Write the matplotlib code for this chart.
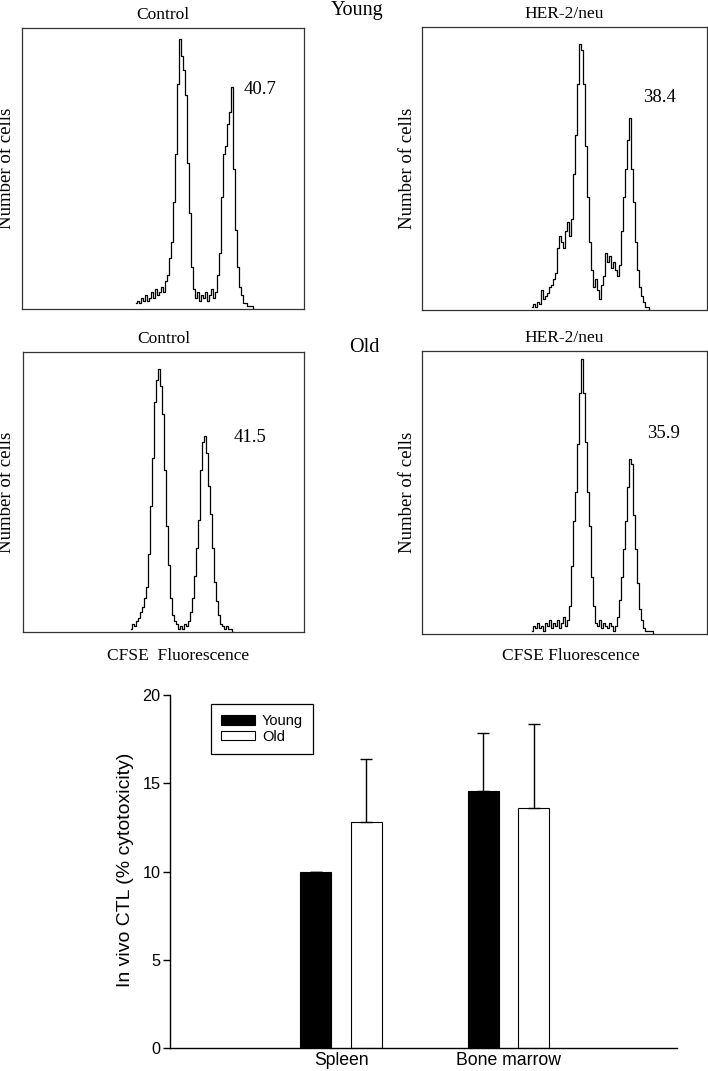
import numpy as np
import matplotlib
matplotlib.use("Agg")
import matplotlib.pyplot as plt

# ---------------- data ----------------
# Flow histograms: counts (% of axis height) at channels starting at given channel, step 2
young_ctrl_start = 114
young_ctrl_counts = [2, 3, 2, 4, 3, 5, 3, 4, 6, 4, 7, 5, 6, 8, 6, 10, 12, 18, 24, 38,
                     55, 80, 96, 90, 85, 76, 52, 34, 15, 7, 4, 6, 3, 5, 4, 6, 3, 5, 7, 4,
                     6, 12, 20, 40, 55, 58, 66, 70, 79, 50, 28, 15, 8, 5, 2, 2, 1, 1, 1, 0]
young_her_start = 110
young_her_counts = [1, 2, 1, 3, 2, 7, 4, 5, 6, 8, 9, 11, 13, 22, 26, 24, 22, 28, 31, 26,
                    32, 48, 62, 80, 94, 92, 80, 58, 40, 24, 14, 8, 11, 7, 4, 9, 12, 20, 17, 19,
                    15, 17, 14, 12, 16, 28, 40, 50, 60, 68, 50, 38, 24, 14, 8, 5, 3, 1, 1, 0]
old_ctrl_start = 108
old_ctrl_counts = [1, 3, 2, 4, 5, 7, 9, 12, 16, 28, 45, 62, 82, 90, 94, 88, 78, 58, 38, 24,
                   12, 6, 4, 3, 1, 2, 1, 3, 2, 4, 7, 12, 20, 30, 40, 58, 68, 70, 64, 52,
                   42, 30, 18, 11, 6, 3, 2, 1, 2, 1, 1, 0]
old_her_start = 110
old_her_counts = [1, 3, 2, 4, 2, 3, 1, 4, 3, 5, 2, 4, 3, 5, 2, 4, 6, 3, 5, 10,
                  24, 40, 50, 67, 85, 97, 85, 68, 50, 38, 20, 10, 4, 3, 5, 2, 4, 3, 2, 4,
                  3, 1, 3, 6, 12, 20, 30, 40, 52, 62, 60, 42, 30, 18, 9, 5, 2, 1, 1, 1, 1, 0]

panel_titles = ["Control", "HER-2/neu", "Control", "HER-2/neu"]
panel_values = ["40.7", "38.4", "41.5", "35.9"]
row_labels = ["Young", "Old"]

# Bar chart
categories = ["Spleen", "Bone marrow"]
young_vals = [9.95, 14.55]
young_err = [0.05, 3.3]
old_vals = [12.8, 13.6]
old_err = [3.6, 4.75]
series_names = ["Young", "Old"]

# ---------------- figure ----------------
W, H = 708, 1071
fig = plt.figure(figsize=(W / 100, H / 100), dpi=100)
serif = "Liberation Serif"
sans = "Liberation Sans"


def box(x0, y0, x1, y1):
    return [x0 / W, 1 - y1 / H, (x1 - x0) / W, (y1 - y0) / H]


panels = [
    (box(22, 28, 304, 309), young_ctrl_start, young_ctrl_counts, 282, (260, 90)),
    (box(422, 27, 707, 310), young_her_start, young_her_counts, 285, (659, 98)),
    (box(23, 352, 304, 632), old_ctrl_start, old_ctrl_counts, 281, (250, 437)),
    (box(422, 351, 707, 634), old_her_start, old_her_counts, 285, (663, 433)),
]

for i, (rect, start, counts, xmax, lblpos) in enumerate(panels):
    ax = fig.add_axes(rect)
    ch = start + 2 * np.arange(len(counts))
    ax.step(ch, counts, where="mid", color="black", lw=0.9)
    ax.set_xlim(0, xmax)
    ax.set_ylim(0, 100)
    ax.set_xticks([])
    ax.set_yticks([])
    for s in ax.spines.values():
        s.set_color("#333333")
        s.set_linewidth(0.9)
    cx = (rect[0] + rect[2] / 2)
    ty = rect[1] + rect[3] + 13 / H
    fig.text(cx, ty, panel_titles[i], ha="center", va="center",
             family=serif, fontsize=12.5)
    lx = 7 / W if rect[0] < 0.3 else 408 / W
    fig.text(lx, rect[1] + rect[3] / 2, "Number of cells", rotation=90,
             ha="center", va="center", family=serif, fontsize=13.5)
    fig.text(lblpos[0] / W, 1 - lblpos[1] / H, panel_values[i], ha="center",
             va="center", family=serif, fontsize=13.5)

fig.text(357 / W, 1 - 10 / H, row_labels[0], ha="center", va="center",
         family=serif, fontsize=14.5)
fig.text(364 / W, 1 - 348 / H, row_labels[1], ha="center", va="center",
         family=serif, fontsize=14.5)
fig.text(178 / W, 1 - 656 / H, "CFSE  Fluorescence", ha="center", va="center",
         family=serif, fontsize=12.5)
fig.text(571 / W, 1 - 656 / H, "CFSE Fluorescence", ha="center", va="center",
         family=serif, fontsize=12.5)

# ---------------- bar chart ----------------
bx = fig.add_axes(box(170, 695, 677, 1048))
x = np.arange(len(categories))
bw = 0.185
off = 0.152
bx.bar(x - off, young_vals, bw, color="black", edgecolor="black", lw=0.8,
       label=series_names[0])
bx.bar(x + off, old_vals, bw, color="white", edgecolor="black", lw=0.8,
       label=series_names[1])
bx.errorbar(x - off, young_vals, yerr=[np.zeros(len(x)), young_err], fmt="none",
            ecolor="black", elinewidth=1, capsize=4, capthick=1)
bx.errorbar(x + off, old_vals, yerr=[np.zeros(len(x)), old_err], fmt="none",
            ecolor="black", elinewidth=1, capsize=4, capthick=1)
bx.set_xlim(-1.021, 2.006)
bx.set_ylim(0, 20)
bx.set_yticks([0, 5, 10, 15, 20])
bx.set_xticks(x)
bx.set_xticklabels(categories, family=sans, fontsize=12.7)
for t in bx.get_yticklabels():
    t.set_family(sans)
    t.set_fontsize(11.7)
bx.tick_params(axis="y", direction="out", length=5, width=1, pad=2)
bx.tick_params(axis="x", length=0, pad=3)
bx.spines["top"].set_visible(False)
bx.spines["right"].set_visible(False)
bx.spines["left"].set_linewidth(1)
bx.spines["bottom"].set_linewidth(1)
fig.text(125 / W, 1 - 870 / H, "In vivo CTL (% cytotoxicity)", rotation=90,
         ha="center", va="center", family=sans, fontsize=14)

leg = bx.legend(loc="upper left", bbox_to_anchor=(211 / W, 1 - 704 / H),
                bbox_transform=fig.transFigure, borderaxespad=0, fancybox=False,
                edgecolor="black", framealpha=1, prop={"family": sans, "size": 10.5},
                handlelength=2.3, handleheight=0.6, handletextpad=0.5,
                borderpad=0.7, labelspacing=0.1)
leg.get_frame().set_linewidth(0.9)

fig.savefig("out.png", dpi=100)
